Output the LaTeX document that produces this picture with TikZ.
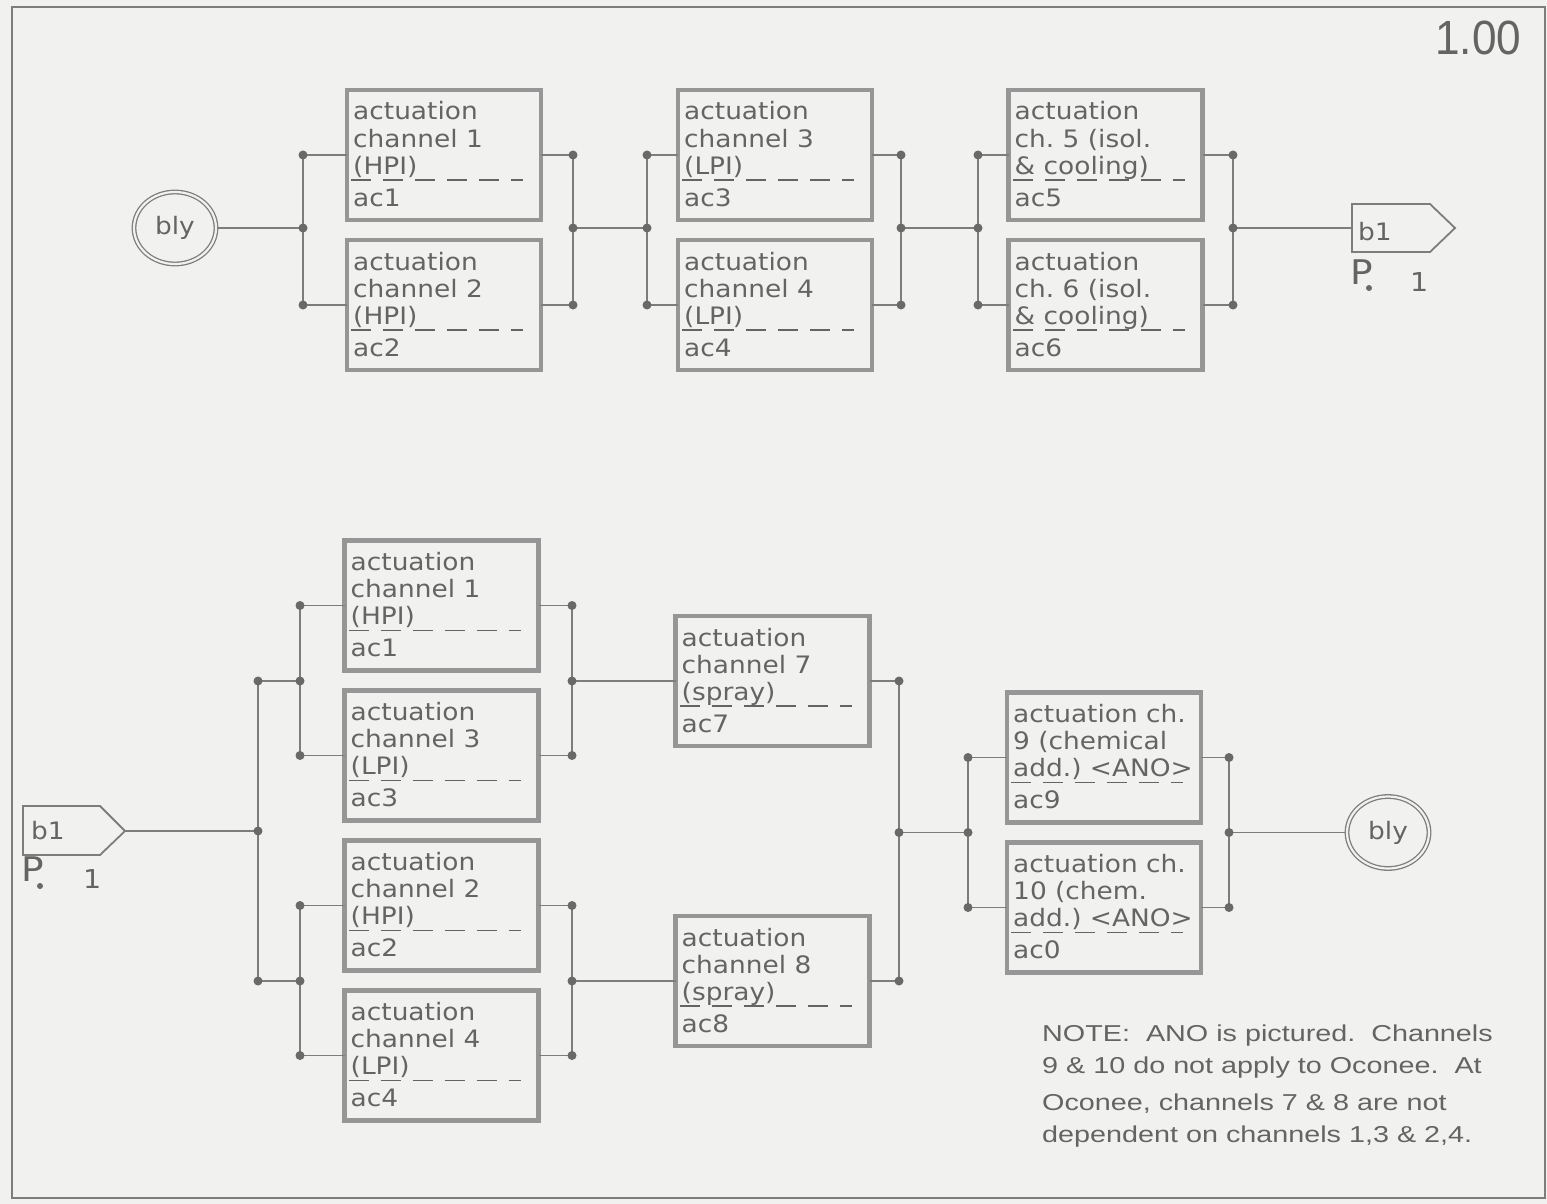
\documentclass[tikz,border=0pt]{standalone}
\usepackage{fontspec}
\setmainfont{DejaVu Sans}
\newfontfamily\cadfont[FakeStretch=1.1]{DejaVu Sans}
\newfontfamily\notefont[FakeStretch=1.25]{Liberation Sans}
\newfontfamily\numfont[FakeStretch=0.92]{Liberation Sans}
\usetikzlibrary{shapes.geometric}
\definecolor{bgC}{RGB}{241,241,240}
\definecolor{lnC}{RGB}{125,125,125}
\definecolor{bxC}{RGB}{150,150,150}
\definecolor{txC}{RGB}{100,100,100}
\definecolor{dotC}{RGB}{105,105,105}
\frenchspacing
\tikzset{
  boxst/.style={draw=bxC, line width=4.5pt, minimum width=194pt, minimum height=130pt, inner sep=0pt, outer sep=0pt},
  cadtxt/.style={text=txC, font=\cadfont\fontsize{24}{27}\selectfont, anchor=base west, inner sep=0pt},
  wire/.style={draw=lnC, line width=1.8pt},
  sepline/.style={draw=txC, line width=1.6pt, dash pattern=on 20pt off 12pt},
  blyst/.style={ellipse, draw=lnC, double=bgC, double distance=2.2pt, line width=1.3pt, minimum width=82pt, minimum height=72pt, inner sep=0pt, text=txC, font=\cadfont\fontsize{24}{27}\selectfont},
  offpg/.style={draw=lnC, line width=1.8pt},
  notest/.style={text=txC, font=\notefont\fontsize{23}{33}\selectfont, anchor=base west, inner sep=0pt},
}
\newcommand\chbox[7]{%
  \node[boxst] (#1) at (#2,#3) {};
  \node[cadtxt] (#1-l1) at ([shift={(6,30)}]#1.north west) {#4};
  \node[cadtxt] (#1-l2) at ([shift={(6,57)}]#1.north west) {#5};
  \node[cadtxt] (#1-l3) at ([shift={(6,84)}]#1.north west) {#6};
  \node[cadtxt] (#1-l4) at ([shift={(6,116)}]#1.north west) {#7};
  \draw[sepline] ([shift={(4,90)}]#1.north west) -- ([shift={(-18,90)}]#1.north east);
}
\begin{document}
\begin{tikzpicture}[x=1pt,y=-1pt]
\fill[bgC] (0,0) rectangle (1547,1204);
\useasboundingbox (0,0) rectangle (1547,1204);
\draw[lnC, line width=1.2pt] (12,7) rectangle (1545,1198);
\node[text=txC, font=\numfont\fontsize{48}{50}\selectfont, anchor=base west, inner sep=0pt] (pagenum) at (1435,55) {1.00};

% ---------------- top row ----------------
\chbox{tac1}{444}{155}{actuation}{channel 1}{(HPI)}{ac1}
\chbox{tac2}{444}{305}{actuation}{channel 2}{(HPI)}{ac2}
\chbox{tac3}{775}{155}{actuation}{channel 3}{(LPI)}{ac3}
\chbox{tac4}{775}{305}{actuation}{channel 4}{(LPI)}{ac4}
\chbox{tac5}{1105.5}{155}{actuation}{ch. 5 (isol.}{\& cooling)}{ac5}
\chbox{tac6}{1105.5}{305}{actuation}{ch. 6 (isol.}{\& cooling)}{ac6}

\node[blyst] (bly1) at (175,228) {bly};

\coordinate (t1u) at (303,155); \coordinate (tm1) at (303,228); \coordinate (t1d) at (303,305);
\coordinate (t2u) at (573,155); \coordinate (tm2) at (573,228); \coordinate (t2d) at (573,305);
\coordinate (t3u) at (647,155); \coordinate (tm3) at (647,228); \coordinate (t3d) at (647,305);
\coordinate (t4u) at (901,155); \coordinate (tm4) at (901,228); \coordinate (t4d) at (901,305);
\coordinate (t5u) at (978,155); \coordinate (tm5) at (978,228); \coordinate (t5d) at (978,305);
\coordinate (t6u) at (1233,155); \coordinate (tm6) at (1233,228); \coordinate (t6d) at (1233,305);

% off-page connector b1 (top)
\coordinate (b1tin) at (1352,228);
\draw[offpg] (1352,204) -- (1430,204) -- (1455,228) -- (1430,252) -- (1352,252) -- cycle;
\node[cadtxt] (b1tlab) at (1358,240) {b1};
\node[text=txC, font=\cadfont\fontsize{34}{34}\selectfont, anchor=base west, inner sep=0pt] (b1tp) at (1350,284) {P};
\fill[dotC] (1369,288) circle (3pt);
\node[cadtxt, font=\cadfont\fontsize{26}{27}\selectfont] (b1tn) at (1410,291) {1};

\draw[wire] (bly1.east) -- (tm1);
\draw[wire] (t1u) -- (t1d);
\draw[wire] (t1u) -- (tac1.west);
\draw[wire] (t1d) -- (tac2.west);
\draw[wire] (tac1.east) -- (t2u);
\draw[wire] (tac2.east) -- (t2d);
\draw[wire] (t2u) -- (t2d);
\draw[wire] (tm2) -- (tm3);
\draw[wire] (t3u) -- (t3d);
\draw[wire] (t3u) -- (tac3.west);
\draw[wire] (t3d) -- (tac4.west);
\draw[wire] (tac3.east) -- (t4u);
\draw[wire] (tac4.east) -- (t4d);
\draw[wire] (t4u) -- (t4d);
\draw[wire] (tm4) -- (tm5);
\draw[wire] (t5u) -- (t5d);
\draw[wire] (t5u) -- (tac5.west);
\draw[wire] (t5d) -- (tac6.west);
\draw[wire] (tac5.east) -- (t6u);
\draw[wire] (tac6.east) -- (t6d);
\draw[wire] (t6u) -- (t6d);
\draw[wire] (tm6) -- (b1tin);

\foreach \c in {t1u,tm1,t1d,t2u,tm2,t2d,t3u,tm3,t3d,t4u,tm4,t4d,t5u,tm5,t5d,t6u,tm6,t6d}
  \fill[dotC] (\c) circle (4.5pt);

% ---------------- bottom row ----------------
\chbox{bac1}{441.5}{605.5}{actuation}{channel 1}{(HPI)}{ac1}
\chbox{bac3}{441.5}{755.5}{actuation}{channel 3}{(LPI)}{ac3}
\chbox{bac2}{441.5}{905.5}{actuation}{channel 2}{(HPI)}{ac2}
\chbox{bac4}{441.5}{1055.5}{actuation}{channel 4}{(LPI)}{ac4}
\chbox{bac7}{772.5}{681}{actuation}{channel 7}{(spray)}{ac7}
\chbox{bac8}{772.5}{981}{actuation}{channel 8}{(spray)}{ac8}
\chbox{bac9}{1104}{757.5}{actuation ch.}{9 (chemical}{add.) <ANO>}{ac9}
\chbox{bac0}{1104}{907.5}{actuation ch.}{10 (chem.}{add.) <ANO>}{ac0}

\node[blyst] (bly2) at (1388,832.5) {bly};

% off-page connector b1 (bottom)
\coordinate (b1btip) at (125,831);
\draw[offpg] (23,806) -- (100,806) -- (125,831) -- (100,855) -- (23,855) -- cycle;
\node[cadtxt] (b1blab) at (31,839) {b1};
\node[text=txC, font=\cadfont\fontsize{34}{34}\selectfont, anchor=base west, inner sep=0pt] (b1bp) at (21,881) {P};
\fill[dotC] (40,886) circle (3pt);
\node[cadtxt, font=\cadfont\fontsize{26}{27}\selectfont] (b1bn) at (83,888) {1};

\coordinate (L0u) at (258,681); \coordinate (L0m) at (258,831); \coordinate (L0d) at (258,981);
\coordinate (L1u) at (300,605.5); \coordinate (L1m) at (300,681); \coordinate (L1d) at (300,755.5);
\coordinate (L2u) at (300,905.5); \coordinate (L2m) at (300,981); \coordinate (L2d) at (300,1055.5);
\coordinate (R1u) at (572,605.5); \coordinate (R1m) at (572,681); \coordinate (R1d) at (572,755.5);
\coordinate (R2u) at (572,905.5); \coordinate (R2m) at (572,981); \coordinate (R2d) at (572,1055.5);
\coordinate (R3u) at (899,681); \coordinate (R3m) at (899,832.5); \coordinate (R3d) at (899,981);
\coordinate (R4u) at (968,757.5); \coordinate (R4m) at (968,832.5); \coordinate (R4d) at (968,907.5);
\coordinate (R5u) at (1229,757.5); \coordinate (R5m) at (1229,832.5); \coordinate (R5d) at (1229,907.5);

\draw[wire] (b1btip) -- (L0m);
\draw[wire] (L0u) -- (L0d);
\draw[wire] (L0u) -- (L1m);
\draw[wire] (L0d) -- (L2m);
\draw[wire] (L1u) -- (L1d);
\draw[wire] (L1u) -- (bac1.west);
\draw[wire] (L1d) -- (bac3.west);
\draw[wire] (L2u) -- (L2d);
\draw[wire] (L2u) -- (bac2.west);
\draw[wire] (L2d) -- (bac4.west);
\draw[wire] (bac1.east) -- (R1u);
\draw[wire] (bac3.east) -- (R1d);
\draw[wire] (R1u) -- (R1d);
\draw[wire] (R1m) -- (bac7.west);
\draw[wire] (bac2.east) -- (R2u);
\draw[wire] (bac4.east) -- (R2d);
\draw[wire] (R2u) -- (R2d);
\draw[wire] (R2m) -- (bac8.west);
\draw[wire] (bac7.east) -- (R3u);
\draw[wire] (bac8.east) -- (R3d);
\draw[wire] (R3u) -- (R3d);
\draw[wire] (R3m) -- (R4m);
\draw[wire] (R4u) -- (R4d);
\draw[wire] (R4u) -- (bac9.west);
\draw[wire] (R4d) -- (bac0.west);
\draw[wire] (bac9.east) -- (R5u);
\draw[wire] (bac0.east) -- (R5d);
\draw[wire] (R5u) -- (R5d);
\draw[wire] (R5m) -- (bly2.west);

\foreach \c in {L0u,L0m,L0d,L1u,L1m,L1d,L2u,L2m,L2d,R1u,R1m,R1d,R2u,R2m,R2d,R3u,R3m,R3d,R4u,R4m,R4d,R5u,R5m,R5d}
  \fill[dotC] (\c) circle (4.5pt);

% note
\node[notest] (note1) at (1042,1041) {NOTE:\ \ ANO is pictured.\ \ Channels};
\node[notest] (note2) at (1042,1073) {9 \& 10 do not apply to Oconee.\ \ At};
\node[notest] (note3) at (1042,1110) {Oconee, channels 7 \& 8 are not};
\node[notest] (note4) at (1042,1142) {dependent on channels 1,3 \& 2,4.};
\end{tikzpicture}
\end{document}
